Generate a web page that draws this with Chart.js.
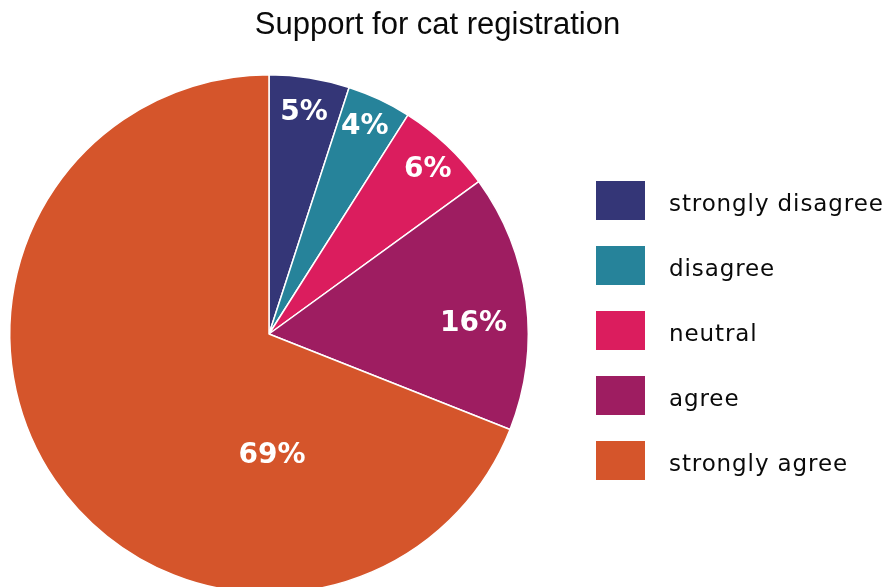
<!DOCTYPE html>
<html>
<head>
<meta charset="utf-8">
<script src="https://cdn.jsdelivr.net/npm/chart.js@4.4.1/dist/chart.umd.min.js"></script>
<style>
  html, body { margin: 0; padding: 0; background: #fff; overflow: hidden; }
  canvas { display: block; }
</style>
</head>
<body>
<canvas id="pieChart" width="885" height="601"></canvas>
<script>
const categories = ["strongly disagree", "disagree", "neutral", "agree", "strongly agree"];
const shares = [5, 4, 6, 16, 69];
const sliceColors = ["#343677", "#26839a", "#db1d5e", "#9e1d61", "#d5552b"];

// where each % label sits: [fraction of radius, degrees off the slice middle]
const labelSpots = [[0.865, 0], [0.88, -0.4], [0.88, 0.9], [0.79, 4.4], [0.47, -57.2]];

// legend drawn as its own layout box on the right
const sideLegend = {
    id: "sideLegend",
    beforeInit(chart) {
        const box = {
            position: "right",
            weight: 0,
            fullSize: false,
            options: {},
            left: 0, top: 0, right: 0, bottom: 0, width: 0, height: 0,
            isHorizontal() { return false; },
            update(maxWidth, maxHeight) {
                this.width = 337;
                this.height = maxHeight;
            },
            draw() {
                const ctx = chart.ctx;
                ctx.save();
                ctx.font = "23px 'DejaVu Sans'";
                ctx.letterSpacing = "0.9px";
                ctx.textBaseline = "alphabetic";
                ctx.textAlign = "left";
                categories.forEach((name, i) => {
                    const y = 181 + i * 65;
                    ctx.fillStyle = sliceColors[i];
                    ctx.fillRect(this.left + 58, y, 49, 39);
                    ctx.fillStyle = "#0a0a0a";
                    ctx.fillText(name, this.left + 131, y + 29.7);
                });
                ctx.restore();
            }
        };
        Chart.layouts.addBox(chart, box);
    }
};

const sliceLabels = {
    id: "sliceLabels",
    afterDatasetsDraw(chart) {
        const ctx = chart.ctx;
        const arcs = chart.getDatasetMeta(0).data;
        ctx.save();
        ctx.font = "bold 28px 'DejaVu Sans'";
        ctx.fillStyle = "#ffffff";
        ctx.textAlign = "center";
        ctx.textBaseline = "middle";
        arcs.forEach((arc, i) => {
            const p = arc.getProps(["x", "y", "startAngle", "endAngle", "outerRadius"], true);
            const a = (p.startAngle + p.endAngle) / 2 + labelSpots[i][1] * Math.PI / 180;
            const r = p.outerRadius * labelSpots[i][0];
            ctx.fillText(shares[i] + "%", p.x + r * Math.cos(a), p.y + r * Math.sin(a));
        });
        ctx.restore();
    }
};

new Chart(document.getElementById("pieChart").getContext("2d"), {
    type: "pie",
    data: {
        labels: categories,
        datasets: [{
            data: shares,
            backgroundColor: sliceColors,
            borderColor: "#ffffff",
            borderWidth: 1.5,
            hoverOffset: 0
        }]
    },
    options: {
        responsive: false,
        animation: false,
        layout: { padding: { left: 0, right: 10, top: 1.5, bottom: 7 } },
        plugins: {
            legend: { display: false },
            tooltip: { enabled: false },
            title: {
                display: true,
                text: "Support for cat registration",
                color: "#0a0a0a",
                font: { family: "'Liberation Sans', Arial, sans-serif", size: 31, weight: "normal" },
                padding: { top: 5.4, bottom: 29.9 }
            }
        }
    },
    plugins: [sideLegend, sliceLabels]
});
</script>
</body>
</html>
